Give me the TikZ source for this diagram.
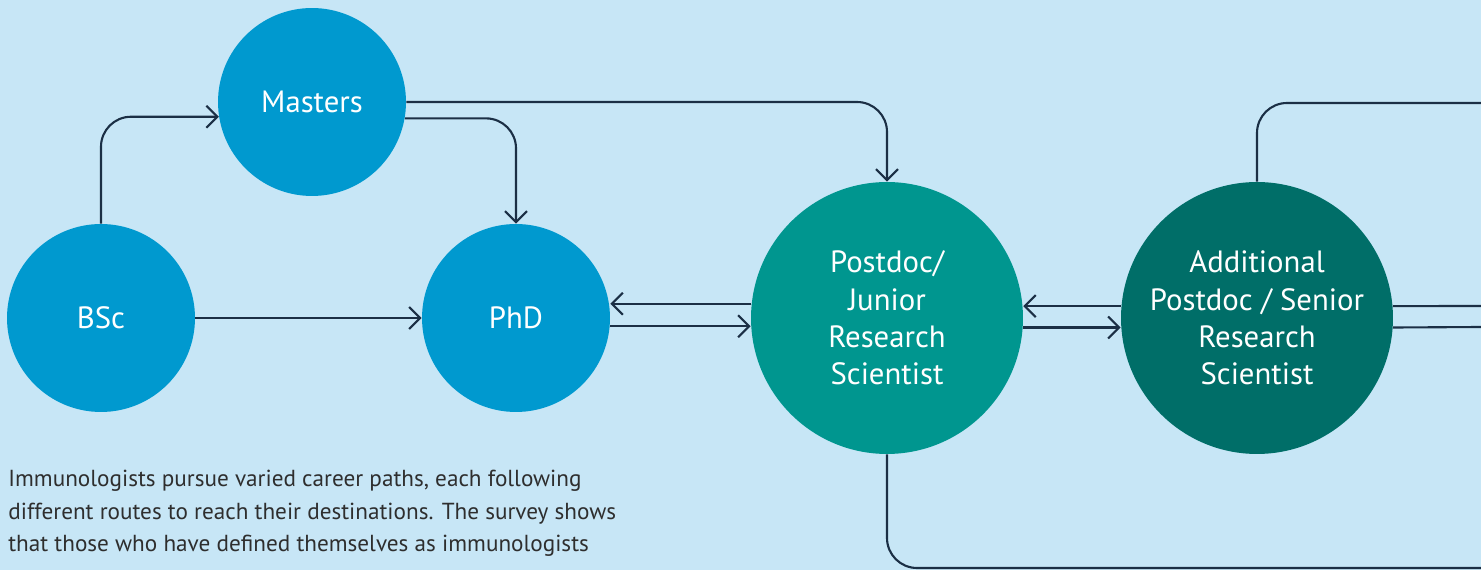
\documentclass[tikz,border=0pt]{standalone}
\usepackage{fontspec}
\setmainfont{PT Sans}
\usetikzlibrary{arrows.meta}

\definecolor{bgblue}{HTML}{C7E6F6}
\definecolor{stepblue}{HTML}{0099CF}
\definecolor{stepteal}{HTML}{00968F}
\definecolor{stepdark}{HTML}{006E68}
\definecolor{linenavy}{HTML}{1B2F45}
\definecolor{textgray}{HTML}{2E2E2E}

\tikzset{
	small/.style={circle,minimum size=3.76cm,inner sep=0pt,text=white,align=center,font=\fontsize{17.5}{21}\selectfont},
	big/.style={circle,minimum size=5.44cm,inner sep=0pt,text=white,align=center,font=\fontsize{17.5}{21.2}\selectfont},
	arr/.style={draw=linenavy,line width=1.2pt,rounded corners=0.6cm,-{Straight Barb[length=0.22cm,width=0.44cm,line width=1.2pt]}},
	path/.style={draw=linenavy,line width=1.2pt,rounded corners=0.6cm}
}

\begin{document}
\begin{tikzpicture}[x=0.02cm,y=-0.02cm]
					\fill[bgblue] (0,0) rectangle (1481,570);
					\useasboundingbox (0,0) rectangle (1481,570);

					\node[small,fill=stepblue] (masters) at (312,102) {Masters};
					\node[small,fill=stepblue] (bsc) at (101,318) {BSc};
					\node[small,fill=stepblue] (phd) at (516,318) {PhD};
					\node[big,fill=stepteal] (postdoc) at (887,318) {Postdoc/\\Junior\\Research\\Scientist};
					\node[big,fill=stepdark] (senior) at (1257,318) {Additional\\Postdoc / Senior\\Research\\Scientist};

					%% lines leaving the picture
					\coordinate (outtop) at (1481,103);
					\coordinate (outhi) at (1481,306);
					\coordinate (outlo) at (1481,327);
					\coordinate (outbot) at (1481,568);

					\draw[arr] (bsc.north) |- (masters.189);
					\draw[arr] (bsc.east) -- (phd.west);
					\draw[arr] (masters.east) -| (postdoc.north);
					\draw[arr] (masters.350) -| (phd.north);

					\draw[arr] (postdoc.174) -- (postdoc.174 -| phd.east);
					\draw[arr] (phd.355) -- (phd.355 -| postdoc.west);
					\draw[arr] (senior.175) -- (senior.175 -| postdoc.east);
					\draw[arr] (postdoc.356) -- (postdoc.356 -| senior.west);

					\draw[path] (senior.north) |- (outtop);
					\draw[path] (senior.5) -- (outhi);
					\draw[path] (senior.356) -- (outlo);
					\draw[path] (postdoc.south) |- (outbot);

					%% caption text
					\node[anchor=north west,align=left,inner sep=0pt,text=textgray,font=\fontsize{13.2}{18.5}\selectfont] (intro) at (8,470) {Immunologists pursue varied career paths, each following\\different routes to reach their destinations. The survey shows\\that those who have defined themselves as immunologists};
				\end{tikzpicture}
\end{document}
